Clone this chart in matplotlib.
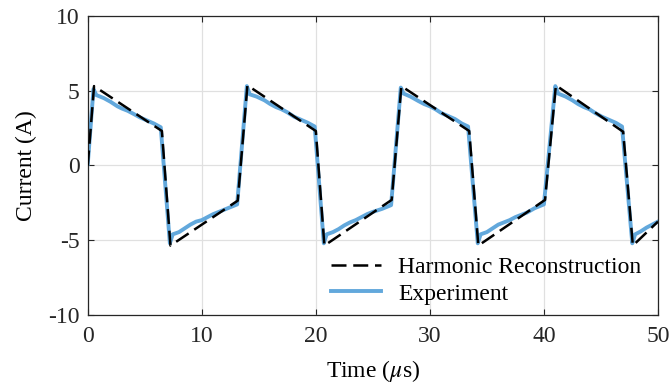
import matplotlib
matplotlib.use("Agg")
import matplotlib.pyplot as plt

# ---- data ----
harm_t = [0.0, 0.55, 6.5, 7.25, 13.15, 14.0, 20.0, 20.75, 26.65, 27.5,
          33.45, 34.25, 40.1, 41.05, 46.95, 47.8, 50.0]
harm_y = [0.0, 5.3, 2.3, -5.35, -2.35, 5.35, 2.3, -5.35, -2.3, 5.3,
          2.3, -5.35, -2.3, 5.35, 2.25, -5.35, -3.75]

exp_t = [0.0, 0.5, 0.75, 1.4, 2.0, 2.6, 3.0, 3.5, 4.0, 4.6, 5.2, 5.8, 6.4, 7.2, 7.45, 8.0, 8.5,
         9.0, 9.5, 10.0, 10.5, 11.0, 11.5, 12.3, 13.1,
         13.95, 14.2, 14.8, 15.5, 16.0, 16.5, 17.0, 17.5, 18.1, 18.7, 19.3, 19.9, 20.7, 20.95,
         21.5, 22.0, 22.5, 23.0, 23.5, 24.0, 24.5, 25.0, 25.8, 26.6,
         27.45, 27.7, 28.3, 29.0, 29.5, 30.0, 30.5, 31.0, 31.6, 32.2, 32.8, 33.35, 34.2, 34.45,
         35.0, 35.5, 36.0, 36.5, 37.0, 37.5, 38.0, 38.5, 39.2, 40.0,
         41.0, 41.25, 41.9, 42.5, 43.0, 43.5, 44.0, 44.5, 45.1, 45.7, 46.3, 46.85, 47.75, 48.0,
         48.5, 49.0, 49.5, 50.0]
exp_y = [0.1, 5.1, 4.7, 4.5, 4.25, 3.95, 3.8, 3.65, 3.45, 3.2, 3.0, 2.8, 2.55, -5.2, -4.6, -4.45,
         -4.2, -3.95, -3.75, -3.65, -3.45, -3.25, -3.1, -2.85, -2.6,
         5.3, 4.75, 4.6, 4.35, 4.1, 3.9, 3.75, 3.55, 3.25, 3.05, 2.85, 2.6, -5.2, -4.6,
         -4.45, -4.25, -4.0, -3.8, -3.65, -3.45, -3.25, -3.1, -2.9, -2.65,
         5.2, 4.8, 4.6, 4.3, 4.1, 3.95, 3.75, 3.5, 3.3, 3.1, 2.8, 2.6, -5.2, -4.6,
         -4.45, -4.2, -3.95, -3.8, -3.65, -3.45, -3.3, -3.15, -2.85, -2.6,
         5.3, 4.8, 4.6, 4.35, 4.1, 3.9, 3.75, 3.5, 3.25, 3.05, 2.85, 2.6, -5.2, -4.6,
         -4.4, -4.15, -3.95, -3.75]

xticks = [0, 10, 20, 30, 40, 50]
yticks = [-10, -5, 0, 5, 10]
ytick_labels = ["-10", "-5", "0", "5", "10"]

# ---- style ----
plt.rcParams['font.family'] = ['Liberation Serif', 'DejaVu Serif']
plt.rcParams['mathtext.fontset'] = 'stix'
fs = 17

fig = plt.figure(figsize=(6.7, 3.83), dpi=100)
ax = fig.add_axes([0.131, 0.177, 0.851, 0.782])

l_exp, = ax.plot(exp_t, exp_y, color='#62a8dc', lw=2.8, zorder=2, label='Experiment',
                 solid_joinstyle='round')
l_harm, = ax.plot(harm_t, harm_y, color='black', lw=1.8, dashes=(6, 2.7), zorder=3,
                  label='Harmonic Reconstruction')

ax.set_xlim(0, 50)
ax.set_ylim(-10, 10)
ax.set_xticks(xticks)
ax.set_yticks(yticks)
ax.set_yticklabels(ytick_labels)
ax.grid(True, color='#e0e0e0', lw=0.9)
ax.set_axisbelow(True)
ax.tick_params(direction='in', length=4, width=0.8, labelsize=fs, colors='#262626',
               top=True, right=True)
ax.tick_params(axis='x', pad=8)
ax.tick_params(axis='y', pad=6)
for s in ax.spines.values():
    s.set_color('#262626')
    s.set_linewidth(0.9)

ax.set_xlabel(r'Time ($\mu$s)', fontsize=fs, labelpad=8)
ax.set_ylabel('Current (A)', fontsize=fs, labelpad=8)

leg = ax.legend(handles=[l_harm, l_exp], loc='lower right', bbox_to_anchor=(0.99, 0.0),
                frameon=False, fontsize=fs, handlelength=2.15, handletextpad=0.72,
                labelspacing=0.2, borderaxespad=0.05)

fig.savefig('out.png', dpi=100)
